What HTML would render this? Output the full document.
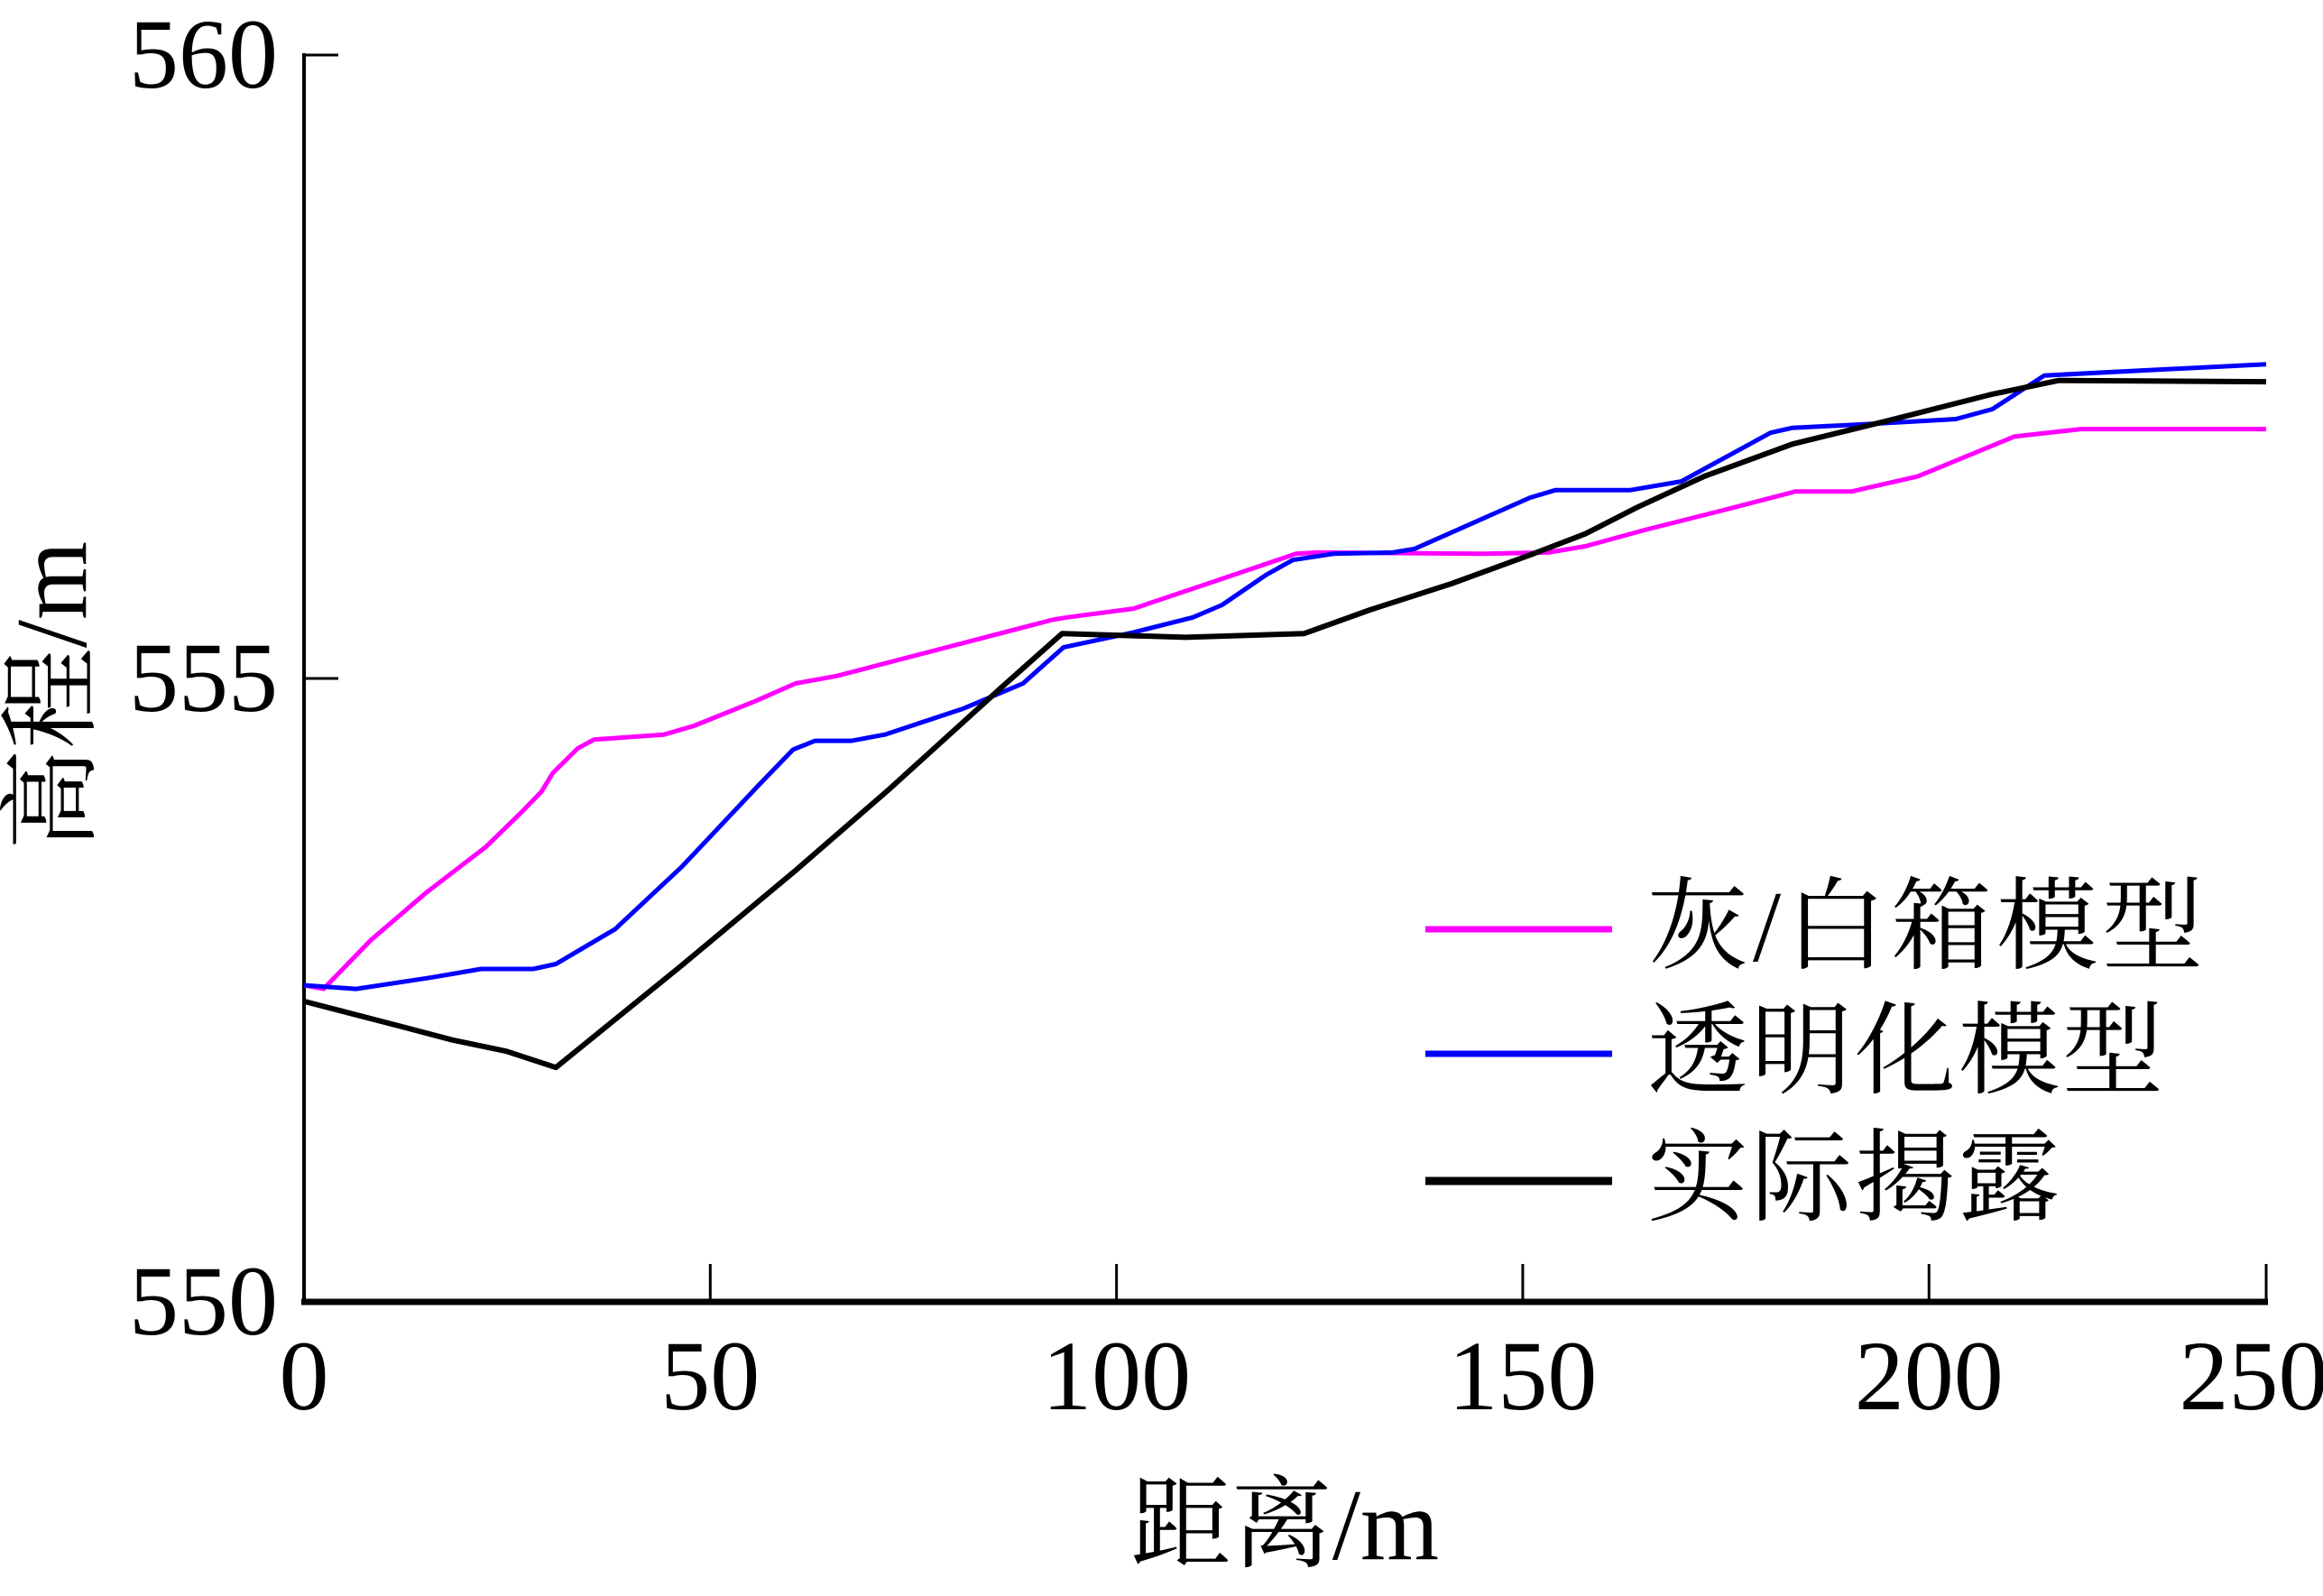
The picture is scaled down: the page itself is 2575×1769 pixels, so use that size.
<!DOCTYPE html>
<html><head><meta charset="utf-8"><style>
html,body{margin:0;padding:0;background:#fff;width:2575px;height:1769px;overflow:hidden}
svg text{font-family:"Liberation Serif","Noto Serif CJK SC","Noto Sans CJK SC",serif;fill:#000}
</style></head><body>
<svg id="chart" width="2575" height="1769" viewBox="0 0 2575 1769" xmlns="http://www.w3.org/2000/svg">
<g id="axes"></g>
<g id="series"></g>
<text x="1424" y="1728" font-size="112" text-anchor="middle">距离/m</text>
<text transform="translate(95,771) rotate(-90)" font-size="112" text-anchor="middle">高程/m</text>
<g>
<line x1="1580" y1="1030" x2="1787" y2="1030" stroke="#ff00ff" stroke-width="7"/>
<text x="1826" y="1065" font-size="112" letter-spacing="5">灰/白箱模型</text>
<line x1="1580" y1="1168" x2="1787" y2="1168" stroke="#0000ff" stroke-width="7"/>
<text x="1826" y="1203" font-size="112" letter-spacing="3">透明化模型</text>
<line x1="1580" y1="1309" x2="1787" y2="1309" stroke="#000" stroke-width="9"/>
<text x="1826" y="1344" font-size="112" letter-spacing="3">实际揭露</text>
</g>
</svg>
<script>
const xTickVals=[0,50,100,150,200,241.5];
const xTickLabels=['0','50','100','150','200','250'];
const yTicks=[550,555,560];
const grayX=[0,2.4,8.2,15.0,22.4,26.5,29.2,30.6,33.7,35.7,44.3,48.0,55.6,60.5,65.6,92.1,93.9,102.1,112.1,122.1,124.8,144.9,153.1,157.7,165.0,175.9,183.6,190.5,198.6,210.5,218.7,241.5];
const grayY=[552.54,552.51,552.90,553.28,553.65,553.91,554.09,554.24,554.44,554.51,554.55,554.62,554.82,554.96,555.02,555.47,555.49,555.56,555.78,556.00,556.01,556.00,556.01,556.06,556.19,556.37,556.50,556.50,556.62,556.94,557.00,557.00];
const transX=[0,6.4,15.5,21.8,28.2,31.0,38.3,46.5,55.9,60.2,62.9,67.4,71.5,81.2,88.5,93.5,102.1,109.4,113.0,118.4,121.7,126.7,134.0,136.7,150.9,154.0,163.2,169.5,180.5,183.2,192.3,203.3,207.8,214.2,241.5];
const transY=[552.54,552.51,552.60,552.67,552.67,552.71,552.99,553.49,554.14,554.43,554.50,554.50,554.55,554.76,554.96,555.25,555.37,555.49,555.59,555.83,555.95,556.00,556.01,556.04,556.45,556.51,556.51,556.58,556.97,557.01,557.04,557.08,557.16,557.43,557.52];
const actualX=[0,11.9,18.3,24.9,31.0,46.5,60.5,72.0,85.7,93.3,108.5,123.1,131.2,141.2,151.3,157.7,164.0,172.3,183.2,195.1,207.8,216.0,241.5];
const actualY=[552.41,552.21,552.10,552.01,551.88,552.70,553.46,554.11,554.92,555.36,555.33,555.36,555.55,555.76,556.00,556.16,556.37,556.62,556.88,557.07,557.28,557.39,557.38];

const NS="http://www.w3.org/2000/svg";
const X0=337,XMAXV=241.5,X1=2512,Y0=1443,Y1=61;
function sx(v){return X0+v/XMAXV*(X1-X0);}
function sy(v){return Y0-(v-550)/(560-550)*(Y0-Y1);}
const axes=document.getElementById('axes');
function mk(tag,attrs,parent){const e=document.createElementNS(NS,tag);for(const k in attrs)e.setAttribute(k,attrs[k]);parent.appendChild(e);return e;}
let e;
e=mk('line',{x1:X0,y1:Y1-2,x2:X0,y2:Y0+3,stroke:'#000','stroke-width':4},axes);


e=mk('line',{x1:X0-3,y1:Y0,x2:X1+2,y2:Y0,stroke:'#000','stroke-width':7},axes);


xTickVals.forEach((t,i)=>{
  const x=sx(t);
  let l=mk('line',{x1:x,y1:Y0,x2:x,y2:Y0-42,stroke:'#000','stroke-width':3},axes);
  
  
  const last=i===xTickVals.length-1;
  let tx=mk('text',{x:last?x-14:x,y:1562,'font-size':110,'text-anchor':'middle'},axes);
  tx.textContent=xTickLabels[i];
  
  
});
yTicks.forEach(t=>{
  const y=sy(t);
  let l=mk('line',{x1:X0,y1:y,x2:X0+38,y2:y,stroke:'#000','stroke-width':3},axes);
  
  
  let tx=mk('text',{x:308,y:y+36,'font-size':110,'text-anchor':'end'},axes);
  tx.textContent=t;
  
  
});
const ser=document.getElementById('series');
function line(xs,ys,color,w,name){
  const d=xs.map((v,i)=>(i?'L':'M')+sx(v).toFixed(1)+','+sy(ys[i]).toFixed(1)).join(' ');
  const p=mk('path',{d:d,fill:'none',stroke:color,'stroke-width':w,'stroke-linejoin':'round'},ser);
  
  
}
line(grayX,grayY,'#ff00ff',5,'gray-box-model-line');
line(transX,transY,'#0000ff',5,'transparent-model-line');
line(actualX,actualY,'#000000',6,'actual-exposure-line');
</script>
</body></html>
